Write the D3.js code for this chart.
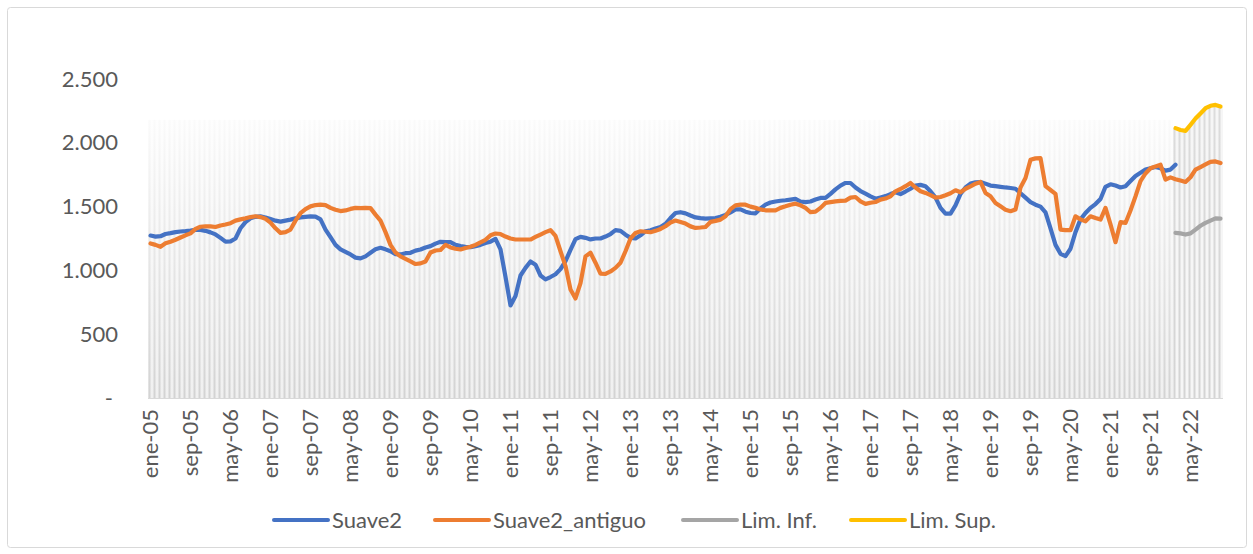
<!DOCTYPE html>
<html>
<head>
<meta charset="utf-8">
<script src="https://cdn.jsdelivr.net/npm/d3@7"></script>
<style>
  html, body { margin: 0; padding: 0; background: #fff; }
  svg { display: block; font-family: Lato, "Open Sans", sans-serif; }
</style>
</head>
<body>
<div id="chart"></div>
<script>
const WIDTH = 1253;
const HEIGHT = 554;

const MARGIN = { TOP: 79, LEFT: 148, RIGHT: 30, BOTTOM: 155 };
const PLOT_W = 1075;
const PLOT_H = HEIGHT - MARGIN.TOP - MARGIN.BOTTOM - 1; // 0 sits at y = 399
const FONT_SIZE = "22px";

const monthNames = ["ene", "feb", "mar", "abr", "may", "jun", "jul", "ago", "sep", "oct", "nov", "dic"];
const startYear = 2005;
const monthCount = 215; // ene-05 .. nov-22

// Suave2 (ene-05 .. feb-22)
const suave2 = [
  1273, 1265, 1268, 1285, 1292, 1300, 1305, 1308, 1312, 1318, 1318, 1310,
  1298, 1282, 1255, 1225, 1228, 1250, 1330, 1378, 1408, 1420, 1424, 1415,
  1403, 1390, 1382, 1390, 1398, 1408, 1416, 1420, 1424, 1422, 1400, 1320,
  1260, 1200, 1165, 1145, 1125, 1100, 1094, 1110, 1138, 1165, 1177, 1165,
  1150, 1128, 1125, 1135, 1138, 1155, 1164, 1180, 1190, 1210, 1224, 1222,
  1221, 1200, 1190, 1185, 1182, 1190, 1200, 1215, 1225, 1247, 1164, 950,
  725, 800, 960, 1020, 1070, 1045, 960, 930, 948, 970, 1010, 1073,
  1160, 1245, 1263, 1255, 1243, 1250, 1250, 1265, 1285, 1315, 1310, 1280,
  1255, 1250, 1275, 1307, 1315, 1328, 1340, 1365, 1410, 1450, 1456, 1447,
  1430, 1415, 1410, 1406, 1408, 1410, 1420, 1435, 1455, 1478, 1478, 1460,
  1450, 1447, 1485, 1515, 1532, 1540, 1546, 1550, 1555, 1560, 1540, 1535,
  1540, 1555, 1568, 1568, 1600, 1635, 1665, 1685, 1685, 1650, 1622, 1602,
  1580, 1562, 1572, 1582, 1598, 1612, 1598, 1618, 1640, 1665, 1670, 1660,
  1620, 1570, 1490, 1445, 1445, 1510, 1600, 1650, 1680, 1690, 1693, 1680,
  1665, 1660, 1655, 1650, 1646, 1640, 1605, 1570, 1535, 1515, 1500, 1455,
  1330, 1200, 1130, 1112, 1170, 1300, 1400, 1450, 1490, 1520, 1560, 1655,
  1675, 1665, 1650, 1660, 1700, 1740, 1765, 1790, 1800, 1810, 1800, 1782,
  1790, 1828
];

// Suave2_antiguo (ene-05 .. nov-22)
const suave2Antiguo = [
  1211, 1200, 1185, 1212, 1225, 1240, 1258, 1275, 1290, 1325, 1342, 1346,
  1345, 1340, 1352, 1360, 1370, 1390, 1400, 1408, 1418, 1424, 1418, 1405,
  1375, 1330, 1294, 1300, 1320, 1390, 1448, 1480, 1502, 1512, 1515, 1512,
  1490, 1475, 1465, 1470, 1482, 1490, 1488, 1490, 1488, 1437, 1390, 1300,
  1200, 1140, 1110, 1090, 1070, 1050, 1055, 1070, 1140, 1156, 1160, 1200,
  1180, 1170, 1164, 1175, 1185, 1200, 1220, 1240, 1275, 1289, 1285, 1265,
  1250, 1242, 1242, 1242, 1242, 1262, 1281, 1300, 1315, 1270, 1150, 1034,
  850, 780, 900, 1110, 1138, 1060, 975, 972, 992, 1020, 1060, 1150,
  1250, 1294, 1307, 1303, 1299, 1310, 1325, 1346, 1375, 1391, 1380, 1367,
  1345, 1333, 1336, 1340, 1380, 1388, 1398, 1425, 1480, 1510, 1515, 1515,
  1500, 1490, 1478, 1471, 1471, 1471, 1490, 1502, 1515, 1523, 1510, 1490,
  1456, 1460, 1490, 1529, 1535, 1541, 1545, 1547, 1570, 1575, 1541, 1521,
  1530, 1536, 1555, 1563, 1580, 1620, 1638, 1660, 1685, 1650, 1620, 1607,
  1590, 1570, 1575, 1589, 1605, 1628, 1612, 1640, 1659, 1680, 1693, 1607,
  1581, 1529, 1502, 1475, 1464, 1477, 1650, 1724, 1867, 1878, 1880, 1660,
  1630, 1600, 1320, 1315, 1315, 1424, 1400, 1385, 1424, 1410, 1398, 1490,
  1360, 1221, 1378, 1372, 1470, 1580, 1700, 1760, 1800, 1815, 1828, 1711,
  1729, 1715, 1705, 1693, 1730, 1790, 1810, 1830, 1850, 1854, 1841
];

// forecast band (feb-22 .. nov-22)
const forecastStart = 205;
const limInf = [1294, 1290, 1281, 1290, 1320, 1350, 1372, 1390, 1408, 1406];
const limSup = [2115, 2100, 2094, 2141, 2190, 2230, 2271, 2290, 2297, 2284];

// background columns height where there is no forecast
const bgLevel = 2180;

const yTicks = [0, 500, 1000, 1500, 2000, 2500];

const colors = {
  suave2: "#4472C4",
  antiguo: "#ED7D31",
  inf: "#A5A5A5",
  sup: "#FFC000",
};

const labels = d3.range(monthCount).map(
  (i) => monthNames[i % 12] + "-" + String((startYear + Math.floor(i / 12)) % 100).padStart(2, "0")
);

function seriesFrom(values, offset) {
  return labels.map((l, i) => {
    const v = values[i - offset];
    return v === undefined ? null : v;
  });
}

const sData = seriesFrom(suave2, 0);
const aData = seriesFrom(suave2Antiguo, 0);
const infData = seriesFrom(limInf, forecastStart);
const supData = seriesFrom(limSup, forecastStart);
const barData = supData.map((v) => (v === null ? bgLevel : v));

const svg = d3
  .select("#chart")
  .append("svg")
  .attr("width", WIDTH)
  .attr("height", HEIGHT);

// outer frame
svg
  .append("rect")
  .attr("x", 7.5)
  .attr("y", 7.5)
  .attr("width", WIDTH - 14)
  .attr("height", HEIGHT - 14)
  .attr("rx", 3)
  .attr("fill", "#fff")
  .attr("stroke", "#d9d9d9")
  .attr("stroke-width", 1);

const xScale = d3
  .scaleBand()
  .domain(labels)
  .range([MARGIN.LEFT, MARGIN.LEFT + PLOT_W])
  .padding(0);

const yScale = d3
  .scaleLinear()
  .domain([0, 2500])
  .range([MARGIN.TOP + PLOT_H, MARGIN.TOP]);

const bw = xScale.bandwidth();
const cx = (l) => xScale(l) + bw / 2;

// gradients for the background columns
const defs = svg.append("defs");
function grad(id, top, bottom) {
  const g = defs
    .append("linearGradient")
    .attr("id", id)
    .attr("gradientUnits", "userSpaceOnUse")
    .attr("x1", 0)
    .attr("x2", 0)
    .attr("y1", yScale(2200))
    .attr("y2", yScale(0));
  g.append("stop").attr("offset", "0%").attr("stop-color", top);
  g.append("stop").attr("offset", "100%").attr("stop-color", bottom);
}
grad("bgGrad", "#fefefe", "#f0f0f0");
grad("barGrad", "#fbfbfb", "#d3d3d3");
grad("barGradF", "#dcdcdc", "#d4d4d4");

const isForecast = (i) => supData[i] !== null;

const bars = svg.append("g").attr("class", "columns");
bars
  .selectAll("rect.bg")
  .data(labels)
  .join("rect")
  .attr("class", "bg")
  .attr("x", (l) => xScale(l))
  .attr("width", bw)
  .attr("y", (l, i) => yScale(barData[i]))
  .attr("height", (l, i) => yScale(0) - yScale(barData[i]))
  .attr("fill", (l, i) => (isForecast(i) ? "#f6f6f6" : "url(#bgGrad)"));
bars
  .selectAll("rect.bar")
  .data(labels)
  .join("rect")
  .attr("class", "bar")
  .attr("x", (l) => xScale(l) + 0.5)
  .attr("width", 2)
  .attr("y", (l, i) => yScale(barData[i]))
  .attr("height", (l, i) => yScale(0) - yScale(barData[i]))
  .attr("fill", (l, i) => (isForecast(i) ? "url(#barGradF)" : "url(#barGrad)"));

// baseline
svg
  .append("line")
  .attr("x1", MARGIN.LEFT)
  .attr("x2", MARGIN.LEFT + PLOT_W)
  .attr("y1", yScale(0) + 0.5)
  .attr("y2", yScale(0) + 0.5)
  .attr("stroke", "#d9d9d9")
  .attr("stroke-width", 1);

// y axis (labels only)
const fmt = (v) => (v === 0 ? "-" : d3.format(",")(v).replace(/,/g, "."));
const yAxis = svg
  .append("g")
  .attr("transform", `translate(${MARGIN.LEFT - 30}, 0)`)
  .call(d3.axisLeft(yScale).tickValues(yTicks).tickSize(0).tickPadding(0).tickFormat(fmt));
yAxis.select(".domain").remove();
yAxis
  .selectAll("text")
  .attr("fill", "#595959")
  .style("font-size", FONT_SIZE)
  .style("font-family", "Lato, sans-serif")
  .attr("dx", (d) => (d === 0 ? -5 : 0));

// x axis (labels every 8 months, rotated)
const xAxis = svg
  .append("g")
  .attr("transform", `translate(0, ${yScale(0) + 11})`)
  .call(
    d3
      .axisBottom(xScale)
      .tickValues(labels.filter((l, i) => i % 8 === 0))
      .tickSize(0)
      .tickPadding(0)
  );
xAxis.select(".domain").remove();
xAxis
  .selectAll("text")
  .attr("fill", "#595959")
  .style("font-size", FONT_SIZE)
  .style("font-family", "Lato, sans-serif")
  .attr("text-anchor", "end")
  .attr("transform", "rotate(-90)")
  .attr("x", 0)
  .attr("y", 0)
  .attr("dy", "0.35em");

// lines
const line = d3
  .line()
  .defined((d) => d.v !== null)
  .x((d) => cx(d.l))
  .y((d) => yScale(d.v));

const series = [
  { name: "Suave2", data: sData, color: colors.suave2 },
  { name: "Suave2_antiguo", data: aData, color: colors.antiguo },
  { name: "Lim. Inf.", data: infData, color: colors.inf },
  { name: "Lim. Sup.", data: supData, color: colors.sup },
];

svg
  .append("g")
  .selectAll("path")
  .data(series)
  .join("path")
  .attr("d", (s) => line(s.data.map((v, i) => ({ l: labels[i], v: v }))))
  .attr("fill", "none")
  .attr("stroke", (s) => s.color)
  .attr("stroke-width", 4.2)
  .attr("stroke-linejoin", "round")
  .attr("stroke-linecap", "round");

// legend
const legendX = [274, 435, 683, 851];
const legend = svg
  .append("g")
  .selectAll("g")
  .data(series)
  .join("g")
  .attr("transform", (s, i) => `translate(${legendX[i]}, 520)`);
legend
  .append("line")
  .attr("x1", 0)
  .attr("x2", 54)
  .attr("stroke", (s) => s.color)
  .attr("stroke-width", 4)
  .attr("stroke-linecap", "round");
legend
  .append("text")
  .attr("x", 58)
  .attr("dy", "0.35em")
  .attr("fill", "#595959")
  .style("font-size", FONT_SIZE)
  .text((s) => s.name);
</script>
</body>
</html>
